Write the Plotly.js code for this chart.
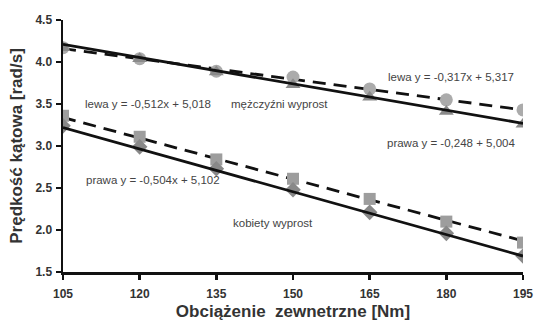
<!DOCTYPE html>
<html>
<head>
<meta charset="utf-8">
<script src="https://cdn.plot.ly/plotly-3.0.1.min.js"></script>
<style>html,body{margin:0;padding:0;background:#fff;}#chart{width:534px;height:321px;}</style>
</head>
<body>
<div id="chart"></div>
<script>
// Data
const loads = [105, 120, 135, 150, 165, 180, 195];
const menLeft   = [4.17, 4.04, 3.89, 3.82, 3.68, 3.55, 3.43];   // circles
const menRight  = [4.17, 4.04, 3.88, 3.73, 3.58, 3.41, 3.26];   // triangles
const womenLeft = [3.36, 3.11, 2.84, 2.61, 2.37, 2.10, 1.85];   // squares
const womenRight= [3.24, 2.99, 2.73, 2.48, 2.21, 1.96, 1.69];   // diamonds
const fitX = [105, 195];
const menLeftFit   = [4.16, 3.43];
const menRightFit  = [4.21, 3.27];
const womenLeftFit = [3.34, 1.87];
const womenRightFit= [3.22, 1.69];
const yTicks = [1.5, 2.0, 2.5, 3.0, 3.5, 4.0, 4.5];
const yTickText = ['1.5', '2.0', '2.5', '3.0', '3.5', '4.0', '4.5'];
const labels = [
  {x: 105, y: 3.5, text: 'lewa y = -0,512x + 5,018', anchor: 'left', dx: 20},
  {x: 137.5, y: 3.5, text: 'mężczyźni wyprost', anchor: 'left', dx: 0},
  {x: 195, y: 3.82, text: 'lewa y = -0,317x + 5,317', anchor: 'right', dx: -7},
  {x: 195, y: 3.04, text: 'prawa y = -0,248 + 5,004', anchor: 'right', dx: -6},
  {x: 105, y: 2.6, text: 'prawa y = -0,504x + 5,102', anchor: 'left', dx: 21},
  {x: 146, y: 2.08, text: 'kobiety wyprost', anchor: 'center', dx: 0}
];

const black = '#111';
const traces = [
  {x: fitX, y: menLeftFit, mode: 'lines', line: {color: black, width: 2.8, dash: '13px,8px'}},
  {x: fitX, y: womenLeftFit, mode: 'lines', line: {color: black, width: 2.8, dash: '13px,8px'}},
  {x: loads, y: menLeft, mode: 'markers', marker: {symbol: 'circle', size: 13, color: '#ababab'}},
  {x: loads, y: womenLeft, mode: 'markers', marker: {symbol: 'square', size: 12, color: '#9d9d9d'}},
  {x: loads, y: menRight, mode: 'markers', marker: {symbol: 'triangle-up', size: 13, color: '#8a8a8a'}},
  {x: loads, y: womenRight, mode: 'markers', marker: {symbol: 'diamond', size: 12, color: '#888888'}},
  {x: fitX, y: menRightFit, mode: 'lines', line: {color: black, width: 2.8}},
  {x: fitX, y: womenRightFit, mode: 'lines', line: {color: black, width: 2.8}}
];

const annotations = labels.map(l => ({
  x: l.x, y: l.y, xref: 'x', yref: 'y', text: l.text, showarrow: false,
  xanchor: l.anchor, yanchor: 'middle', xshift: l.dx,
  font: {family: 'Liberation Sans, Arial, sans-serif', size: 11.5, color: '#444'}
}));

const layout = {
  width: 534, height: 321,
  margin: {l: 63, r: 11, t: 20, b: 49},
  paper_bgcolor: '#fff', plot_bgcolor: '#fff',
  showlegend: false,
  xaxis: {
    range: [105, 195], tickmode: 'array', tickvals: loads, ticktext: loads.map(String),
    showline: true, linecolor: black, linewidth: 2.5, mirror: false,
    ticks: 'outside', ticklen: 5, tickwidth: 2.5, tickcolor: black,
    ticklabelstandoff: 4,
    showgrid: false, zeroline: false,
    tickfont: {family: 'Liberation Sans, Arial, sans-serif', size: 12, color: '#333', weight: 'bold'},
    title: {text: 'Obciążenie  zewnetrzne [Nm]', standoff: 11,
      font: {family: 'Liberation Sans, Arial, sans-serif', size: 17, color: '#333', weight: 'bold'}}
  },
  yaxis: {
    range: [1.5, 4.5], tickmode: 'array', tickvals: yTicks, ticktext: yTickText,
    showline: true, linecolor: black, linewidth: 2.5,
    ticks: 'outside', ticklen: 5, tickwidth: 2.5, tickcolor: black,
    ticklabelstandoff: 1,
    showgrid: false, zeroline: false,
    tickfont: {family: 'Liberation Sans, Arial, sans-serif', size: 12, color: '#333', weight: 'bold'},
    title: {text: 'Prędkość kątowa [rad/s]', standoff: 9,
      font: {family: 'Liberation Sans, Arial, sans-serif', size: 17, color: '#333', weight: 'bold'}}
  },
  annotations: annotations
};

Plotly.newPlot('chart', traces, layout, {displayModeBar: false, staticPlot: true});
</script>
</body>
</html>
